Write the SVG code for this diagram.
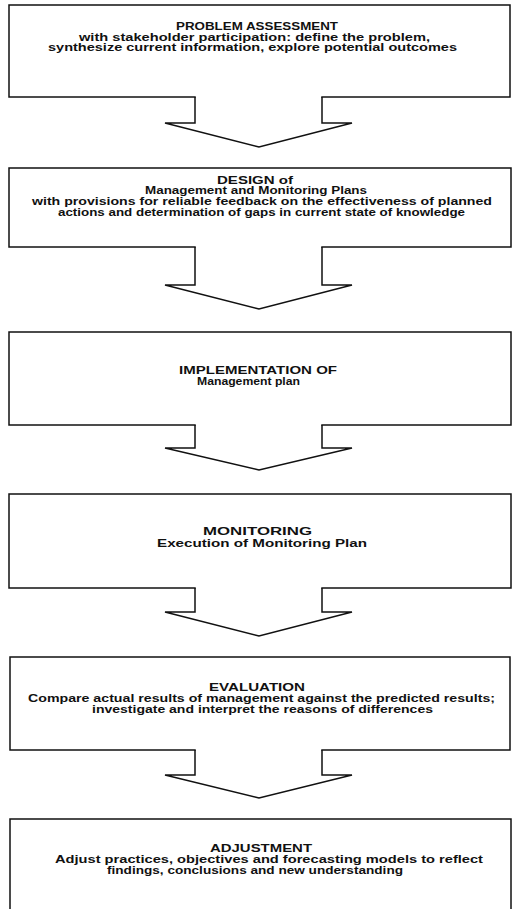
<svg xmlns="http://www.w3.org/2000/svg" width="514" height="909" viewBox="0 0 514 909">
<style>
.box{fill:#fff;stroke:#111;stroke-width:1.5}
.fillar{fill:#fff;stroke:none}
.ar{fill:none;stroke:#111;stroke-width:1.5;stroke-linejoin:miter}
text{font-family:"Liberation Sans",Arial,Helvetica,sans-serif;font-weight:bold;font-size:10.5px;fill:#111}
.t{font-size:11px}
</style>
<rect width="514" height="909" fill="#fff"/>
<g id="n1">
<rect class="box" x="9" y="5" width="501" height="92"/>
<text class="t" x="176" y="29.5" textLength="162" lengthAdjust="spacingAndGlyphs">PROBLEM ASSESSMENT</text>
<text x="79" y="40.5" textLength="351" lengthAdjust="spacingAndGlyphs">with stakeholder participation:  define the problem,</text>
<text x="48" y="51" textLength="409" lengthAdjust="spacingAndGlyphs">synthesize current information, explore potential outcomes</text>
</g>
<g id="n2">
<rect class="box" x="9" y="168" width="502" height="79"/>
<text class="t" x="217" y="183.5" textLength="76" lengthAdjust="spacingAndGlyphs">DESIGN of</text>
<text x="145" y="194" textLength="222" lengthAdjust="spacingAndGlyphs">Management and Monitoring Plans</text>
<text x="32" y="205" textLength="460" lengthAdjust="spacingAndGlyphs">with provisions for reliable feedback on the effectiveness of planned</text>
<text x="58" y="216" textLength="407" lengthAdjust="spacingAndGlyphs">actions and determination of gaps in current state of knowledge</text>
</g>
<g id="n3">
<rect class="box" x="9" y="332" width="502" height="93"/>
<text class="t" x="179" y="374" textLength="158" lengthAdjust="spacingAndGlyphs">IMPLEMENTATION OF</text>
<text x="197" y="385" textLength="103" lengthAdjust="spacingAndGlyphs">Management plan</text>
</g>
<g id="n4">
<rect class="box" x="9" y="494" width="502" height="94"/>
<text class="t" x="203" y="535" textLength="109" lengthAdjust="spacingAndGlyphs">MONITORING</text>
<text x="157" y="546.5" textLength="210" lengthAdjust="spacingAndGlyphs">Execution of Monitoring Plan</text>
</g>
<g id="n5">
<rect class="box" x="10" y="657" width="500" height="93"/>
<text class="t" x="209" y="690.5" textLength="96" lengthAdjust="spacingAndGlyphs">EVALUATION</text>
<text x="28" y="702" textLength="467" lengthAdjust="spacingAndGlyphs">Compare actual results of management against the predicted results;</text>
<text x="92" y="713" textLength="341" lengthAdjust="spacingAndGlyphs">investigate and interpret the reasons of differences</text>
</g>
<g id="n6">
<rect class="box" x="10" y="819" width="501" height="100"/>
<text class="t" x="210" y="851.5" textLength="102" lengthAdjust="spacingAndGlyphs">ADJUSTMENT</text>
<text x="55" y="863" textLength="428" lengthAdjust="spacingAndGlyphs">Adjust practices, objectives and forecasting models to reflect</text>
<text x="107" y="874" textLength="296" lengthAdjust="spacingAndGlyphs">findings, conclusions and new understanding</text>
</g>
<g id="connectors">
<path class="fillar" d="M195.75,96 V123 H165 L259,147 L352,123 H321.25 V96 Z"/>
<path class="ar" d="M195,97 V123 H165 L259,147 L352,123 H322 V97"/>
<path class="fillar" d="M195.75,246 V285 H165 L259,309 L352,285 H321.25 V246 Z"/>
<path class="ar" d="M195,247 V285 H165 L259,309 L352,285 H322 V247"/>
<path class="fillar" d="M195.75,424 V448 H165 L259,470 L352,448 H321.25 V424 Z"/>
<path class="ar" d="M195,425 V448 H165 L259,470 L352,448 H322 V425"/>
<path class="fillar" d="M195.75,587 V612 H165 L259,636 L352,612 H321.25 V587 Z"/>
<path class="ar" d="M195,588 V612 H165 L259,636 L352,612 H322 V588"/>
<path class="fillar" d="M195.75,749 V775 H165 L259,798 L352,775 H321.25 V749 Z"/>
<path class="ar" d="M195,750 V775 H165 L259,798 L352,775 H322 V750"/>
</g>
</svg>
